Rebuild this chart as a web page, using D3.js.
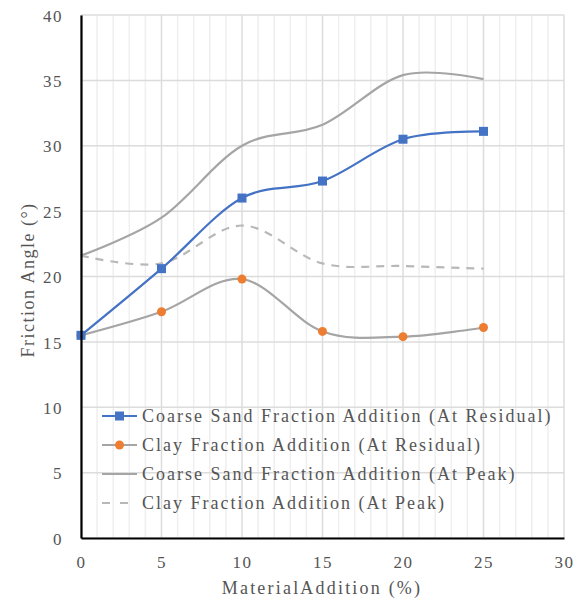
<!DOCTYPE html>
<html>
<head>
<meta charset="utf-8">
<script src="https://cdn.jsdelivr.net/npm/d3@7"></script>
<style>
  body { margin: 0; background: #fff; }
  text { font-family: "Liberation Serif", "Times New Roman", serif; fill: #555; }
</style>
</head>
<body>
<script>
var xValues = [0, 5, 10, 15, 20, 25];
var coarseResidual = [15.5, 20.6, 26.0, 27.3, 30.5, 31.1];
var clayResidual = [15.5, 17.3, 19.8, 15.8, 15.4, 16.1];
var coarsePeak = [21.6, 24.5, 30.0, 31.6, 35.4, 35.1];
var clayPeak = [21.6, 21.0, 23.9, 21.0, 20.8, 20.6];
var xTicks = [0, 5, 10, 15, 20, 25, 30];
var yTicks = [0, 5, 10, 15, 20, 25, 30, 35, 40];
var legendLabels = [
  "Coarse Sand Fraction Addition (At Residual)",
  "Clay Fraction Addition (At Residual)",
  "Coarse Sand Fraction Addition (At Peak)",
  "Clay Fraction Addition (At Peak)"
];

var width = 586, height = 603;
var margin = {left: 81, right: 22, top: 15, bottom: 65};

var x = d3.scaleLinear().domain([0, 30]).range([margin.left, width - margin.right]);
var y = d3.scaleLinear().domain([0, 40]).range([height - margin.bottom, margin.top]);

var svg = d3.select("body").append("svg").attr("width", width).attr("height", height);

// vertical grid, minor every 1
svg.append("g").selectAll("line").data(d3.range(0, 31))
  .enter().append("line")
  .attr("x1", d => x(d)).attr("x2", d => x(d))
  .attr("y1", y(0)).attr("y2", y(40))
  .attr("stroke", d => d % 5 === 0 ? "#dcdcdc" : "#efefef")
  .attr("stroke-width", 1.5);

// horizontal grid
svg.append("g").selectAll("line").data(yTicks)
  .enter().append("line")
  .attr("x1", x(0)).attr("x2", x(30))
  .attr("y1", d => y(d)).attr("y2", d => y(d))
  .attr("stroke", "#dcdcdc").attr("stroke-width", 1.5);

var line = d3.line()
  .x((d, i) => x(xValues[i]))
  .y(d => y(d))
  .curve(d3.curveCatmullRom.alpha(0));

svg.append("path").attr("d", line(coarsePeak))
  .attr("fill", "none").attr("stroke", "#a5a5a5").attr("stroke-width", 2.2);
svg.append("path").attr("d", line(clayPeak))
  .attr("fill", "none").attr("stroke", "#b8b8b8").attr("stroke-width", 2.2)
  .attr("stroke-dasharray", "8,7");
svg.append("path").attr("d", line(clayResidual))
  .attr("fill", "none").attr("stroke", "#a5a5a5").attr("stroke-width", 2.2);
svg.append("path").attr("d", line(coarseResidual))
  .attr("fill", "none").attr("stroke", "#4472c4").attr("stroke-width", 2.2);

svg.append("g").selectAll("circle").data(clayResidual)
  .enter().append("circle")
  .attr("cx", (d, i) => x(xValues[i])).attr("cy", d => y(d))
  .attr("r", 4.5).attr("fill", "#ed7d31");

svg.append("g").selectAll("rect").data(coarseResidual)
  .enter().append("rect")
  .attr("x", (d, i) => x(xValues[i]) - 4.5).attr("y", d => y(d) - 4.5)
  .attr("width", 9).attr("height", 9).attr("fill", "#4472c4");

// axes
var xAxis = d3.axisBottom(x).tickValues(xTicks).tickSize(0).tickPadding(18);
var yAxis = d3.axisLeft(y).tickValues(yTicks).tickSize(0).tickPadding(18);

var gx = svg.append("g").attr("transform", "translate(0," + y(0) + ")").call(xAxis);
var gy = svg.append("g").attr("transform", "translate(" + x(0) + ",0)").call(yAxis);
[gx, gy].forEach(function(g) {
  g.select(".domain").attr("stroke", "#000").attr("stroke-width", 2.2);
  g.selectAll("text").attr("font-size", 17).attr("fill", "#555")
    .style("letter-spacing", "1.5px");
});
gy.selectAll("text").attr("dy", "0.36em");

// axis titles
svg.append("text")
  .attr("x", 322).attr("y", 594)
  .attr("text-anchor", "middle").attr("font-size", 18)
  .style("letter-spacing", "2.2px")
  .text("MaterialAddition (%)");

svg.append("text")
  .attr("transform", "translate(34,280) rotate(-90)")
  .attr("text-anchor", "middle").attr("font-size", 18)
  .style("letter-spacing", "1.5px")
  .text("Friction Angle (°)");

// legend
var legend = svg.append("g").attr("transform", "translate(102,416)");
var rowH = 29;
legendLabels.forEach(function(label, i) {
  var g = legend.append("g").attr("transform", "translate(0," + (i * rowH) + ")");
  var stroke = i === 0 ? "#4472c4" : (i === 3 ? "#b8b8b8" : "#a5a5a5");
  g.append("line").attr("x1", 0).attr("x2", 35).attr("y1", 0).attr("y2", 0)
    .attr("stroke", stroke).attr("stroke-width", 2.2)
    .attr("stroke-dasharray", i === 3 ? "8,10" : null);
  if (i === 0) g.append("rect").attr("x", 13).attr("y", -4.5).attr("width", 9).attr("height", 9).attr("fill", "#4472c4");
  if (i === 1) g.append("circle").attr("cx", 17.5).attr("cy", 0).attr("r", 4.5).attr("fill", "#ed7d31");
  g.append("text").attr("x", 40).attr("y", 0).attr("dy", "0.35em")
    .attr("font-size", 18).style("letter-spacing", "2px")
    .text(label);
});
</script>
</body>
</html>
